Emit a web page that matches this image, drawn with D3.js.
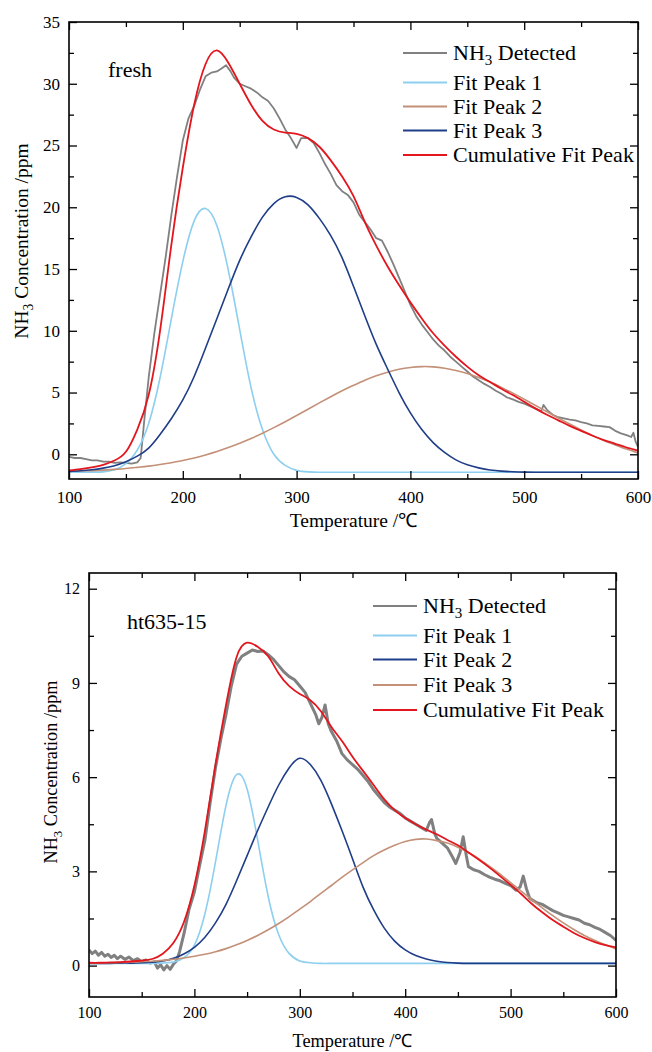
<!DOCTYPE html>
<html>
<head>
<meta charset="utf-8">
<script src="https://cdn.jsdelivr.net/npm/d3@7"></script>
<style>
body { margin: 0; background: #fff; }
svg { display: block; }
svg text { font-family: "Liberation Serif", "Times New Roman", serif; fill: #000; }
</style>
</head>
<body>
<svg id="chart" width="652" height="1052"></svg>
<script>
// temperature grid used by the fitted curves (°C)
var tempGrid = [100,110,120,130,140,150,160,170,180,190,200,210,220,230,240,250,260,270,280,290,
                300,310,320,330,340,350,360,370,380,390,400,410,420,430,440,450,460,470,480,490,
                500,510,520,530,540,550,560,570,580,590,600];

var xTicks = [100, 200, 300, 400, 500, 600];
var xMinorTicks = [150, 250, 350, 450, 550];

// ---- fresh ----
var freshDetT = [100,105,110,115,120,125,130,135,140,145,150,155,160,163,166,170,175,180,185,190,
                 195,200,205,210,215,220,225,230,235,238,242,245,250,255,260,265,270,275,280,285,
                 290,295,300,304,310,315,320,325,330,335,340,345,350,355,360,365,370,375,380,385,
                 390,395,400,405,410,415,420,425,430,435,440,445,450,455,460,465,470,475,480,485,
                 490,495,500,505,510,515,517,520,525,530,535,540,545,550,555,560,565,570,575,580,
                 585,590,594,596,598,600];
var freshDetected = [-0.2,-0.3,-0.3,-0.4,-0.5,-0.5,-0.6,-0.6,-0.7,-0.65,-0.7,-0.75,-0.65,-0.3,2.6,6.2,9.8,12.9,16.0,19.4,
                     22.5,25.4,27.2,28.2,29.5,30.6,30.9,31.0,31.3,31.5,31.0,30.5,30.0,29.8,29.6,29.3,28.9,28.6,28.0,27.2,
                     26.3,25.6,24.8,25.6,25.6,25.2,24.4,23.5,22.7,21.8,21.3,21.0,20.4,19.4,18.8,18.2,17.5,17.3,16.4,15.4,
                     14.3,13.2,12.1,11.2,10.5,9.9,9.3,8.8,8.4,7.9,7.5,7.1,6.7,6.3,6.0,5.7,5.45,5.15,4.9,4.6,
                     4.45,4.25,4.1,3.9,3.7,3.5,4.0,3.6,3.2,3.0,2.9,2.8,2.75,2.6,2.5,2.35,2.3,2.25,2.2,1.9,
                     1.7,1.55,1.4,1.75,1.0,0.6];
var freshPeak1 = [-1.45,-1.45,-1.44,-1.42,-1.25,-0.75,0.35,2.5,6.2,11.0,15.6,18.9,19.9,18.5,14.9,10.1,5.4,2.0,0.0,-0.9,
                  -1.3,-1.42,-1.45,-1.45,-1.45,-1.45,-1.45,-1.45,-1.45,-1.45,-1.45,-1.45,-1.45,-1.45,-1.45,-1.45,-1.45,-1.45,-1.45,-1.45,
                  -1.45,-1.45,-1.45,-1.45,-1.45,-1.45,-1.45,-1.45,-1.45,-1.45,-1.45];
var freshPeak2 = [-1.37,-1.35,-1.32,-1.28,-1.22,-1.15,-1.06,-0.96,-0.83,-0.68,-0.5,-0.3,-0.05,0.23,0.55,0.9,1.28,1.7,2.16,2.64,
                  3.14,3.65,4.16,4.66,5.14,5.58,6.0,6.36,6.65,6.88,7.03,7.1,7.08,6.97,6.79,6.55,6.22,5.85,5.42,4.95,
                  4.46,3.95,3.45,2.94,2.45,1.98,1.53,1.12,0.76,0.42,0.11];
var freshPeak3 = [-1.38,-1.33,-1.25,-1.12,-0.92,-0.6,-0.15,0.5,1.6,2.9,4.4,6.3,8.6,11.0,13.4,15.7,17.6,19.2,20.3,20.85,
                  20.8,20.2,19.1,17.7,15.9,13.6,11.2,8.9,6.9,5.0,3.35,2.0,0.95,0.15,-0.45,-0.85,-1.1,-1.27,-1.36,-1.41,
                  -1.44,-1.45,-1.45,-1.45,-1.45,-1.45,-1.45,-1.45,-1.45,-1.45,-1.45];
var freshCumulative = [-1.3,-1.2,-1.05,-0.85,-0.5,0.2,2.0,4.8,10.0,17.0,23.2,28.3,31.6,32.7,31.7,30.0,28.3,27.0,26.3,26.05,
                       25.95,25.6,24.9,23.8,22.5,20.9,18.8,16.9,15.2,13.7,12.3,11.0,9.8,8.8,7.9,7.1,6.4,5.85,5.3,4.8,
                       4.25,3.7,3.2,2.75,2.3,1.9,1.5,1.15,0.85,0.55,0.3];
var freshYTicks = [0, 5, 10, 15, 20, 25, 30, 35];
var freshYMinor = [2.5, 7.5, 12.5, 17.5, 22.5, 27.5, 32.5];

// ---- ht635-15 ----
var htDetT = [100,103,106,109,112,115,118,121,124,127,130,134,138,142,146,150,154,158,162,165,
              168,171,174,177,180,183,186,190,195,200,205,210,215,220,225,230,235,240,245,250,
              255,260,265,270,275,280,285,290,295,300,305,310,315,318,321,324,327,330,335,340,
              345,350,355,360,365,370,375,380,385,390,395,400,405,410,415,420,423,425,428,430,
              435,440,445,448,452,455,458,460,465,470,475,480,485,490,495,500,505,509,512,515,
              518,520,525,530,535,540,545,550,555,560,565,570,575,580,585,590,595,600];
var htDetected = [0.5,0.38,0.46,0.33,0.42,0.3,0.36,0.26,0.33,0.22,0.3,0.2,0.27,0.16,0.22,0.12,0.18,0.08,0.12,-0.08,
                  0.03,-0.14,0.0,-0.12,0.04,0.15,0.45,1.0,1.8,2.35,3.2,4.0,5.2,6.3,7.2,8.0,8.9,9.6,9.85,9.95,
                  10.05,10.0,10.02,9.9,9.75,9.55,9.35,9.2,9.1,8.9,8.7,8.35,8.0,7.7,7.9,8.3,7.7,7.45,7.15,6.75,
                  6.55,6.4,6.25,6.05,5.85,5.6,5.4,5.2,5.05,4.95,4.85,4.7,4.6,4.5,4.4,4.3,4.55,4.65,4.2,4.05,
                  3.9,3.75,3.45,3.25,3.6,4.1,3.5,3.15,3.05,3.0,2.9,2.82,2.75,2.7,2.62,2.55,2.4,2.5,2.85,2.45,
                  2.15,2.1,2.0,1.95,1.85,1.75,1.68,1.6,1.55,1.5,1.45,1.35,1.3,1.22,1.15,1.05,0.95,0.8];
var htPeak1 = [0.07,0.07,0.07,0.07,0.07,0.07,0.07,0.08,0.11,0.25,0.65,1.65,3.3,5.1,6.08,5.62,4.0,2.2,0.98,0.38,
               0.15,0.09,0.07,0.07,0.07,0.07,0.07,0.07,0.07,0.07,0.07,0.07,0.07,0.07,0.07,0.07,0.07,0.07,0.07,0.07,
               0.07,0.07,0.07,0.07,0.07,0.07,0.07,0.07,0.07,0.07,0.07];
var htPeak2 = [0.07,0.07,0.07,0.08,0.08,0.09,0.11,0.15,0.23,0.37,0.58,0.9,1.36,1.95,2.7,3.5,4.3,5.05,5.75,6.3,
               6.6,6.4,5.9,5.15,4.3,3.4,2.5,1.78,1.2,0.78,0.5,0.32,0.21,0.14,0.1,0.08,0.07,0.07,0.07,0.07,
               0.07,0.07,0.07,0.07,0.07,0.07,0.07,0.07,0.07,0.07,0.07];
var htPeak3 = [0.08,0.085,0.09,0.1,0.11,0.125,0.14,0.165,0.2,0.24,0.3,0.36,0.44,0.54,0.66,0.8,0.96,1.14,1.34,1.56,
               1.8,2.04,2.3,2.55,2.81,3.05,3.28,3.5,3.68,3.83,3.95,4.02,4.03,3.98,3.9,3.77,3.6,3.4,3.16,2.91,
               2.64,2.37,2.1,1.84,1.59,1.36,1.15,0.96,0.8,0.66,0.53];
var htCumulative = [0.09,0.09,0.1,0.11,0.13,0.16,0.21,0.38,0.72,1.38,2.55,4.3,6.4,8.3,9.82,10.28,10.15,9.85,9.3,8.9,
                    8.65,8.45,8.1,7.6,7.15,6.65,6.2,5.75,5.3,4.95,4.7,4.5,4.33,4.18,4.0,3.83,3.6,3.37,3.12,2.85,
                    2.57,2.28,1.97,1.7,1.45,1.24,1.04,0.88,0.75,0.65,0.58];
var htYTicks = [0, 3, 6, 9, 12];
var htYMinor = [1.5, 4.5, 7.5, 10.5];

var colGray = "#808080", colLight = "#8ccfef", colBrown = "#c39078", colDark = "#1f3d88", colRed = "#e3161d";
var serif = "'Liberation Serif', 'Times New Roman', serif";

var svg = d3.select("#chart");

function pairs(xs, ys) { return xs.map((t, i) => [t, ys[i]]); }

function drawPanel(p) {
  var x = d3.scaleLinear().domain([100, 600]).range([p.left, p.right]);
  var y = d3.scaleLinear().domain(p.yDomain).range([p.bottom, p.top]);
  var g = svg.append("g");

  g.append("clipPath").attr("id", p.id + "-clip")
    .append("rect")
      .attr("x", p.left).attr("y", p.top)
      .attr("width", p.right - p.left).attr("height", p.bottom - p.top);

  // fitted curves: smooth spline through the read points; detected signal: straight segments
  var smooth = d3.line().x(d => x(d[0])).y(d => y(d[1])).curve(d3.curveNatural);
  var raw = d3.line().x(d => x(d[0])).y(d => y(d[1]));

  var plot = g.append("g").attr("clip-path", "url(#" + p.id + "-clip)");
  p.series.forEach(function(s) {
    plot.append("path")
      .datum(s.data)
      .attr("fill", "none")
      .attr("stroke", s.color)
      .attr("stroke-width", s.width)
      .attr("stroke-linejoin", "round")
      .attr("d", s.raw ? raw : smooth);
  });

  // axes, ticks pointing inwards
  function style(sel, fs) {
    sel.attr("font-family", serif);
    sel.select(".domain").remove();
    sel.selectAll(".tick line").attr("stroke", "#000").attr("stroke-width", 1.3);
    sel.selectAll(".tick text").attr("fill", "#000").style("font-size", fs + "px");
  }
  g.append("g").attr("transform", "translate(0," + p.bottom + ")")
    .call(d3.axisBottom(x).tickValues(xTicks).tickSize(-8).tickPadding(p.xPad).tickFormat(d3.format("d")))
    .call(style, p.tickFont);
  g.append("g").attr("transform", "translate(0," + p.bottom + ")")
    .call(d3.axisBottom(x).tickValues(xMinorTicks).tickSize(-5).tickFormat(""))
    .call(style, p.tickFont);
  g.append("g").attr("transform", "translate(0," + p.top + ")")
    .call(d3.axisTop(x).tickValues(xTicks).tickSize(-8).tickFormat(""))
    .call(style, p.tickFont);
  g.append("g").attr("transform", "translate(0," + p.top + ")")
    .call(d3.axisTop(x).tickValues(xMinorTicks).tickSize(-5).tickFormat(""))
    .call(style, p.tickFont);
  g.append("g").attr("transform", "translate(" + p.left + ",0)")
    .call(d3.axisLeft(y).tickValues(p.yTicks).tickSize(-8).tickPadding(9).tickFormat(d3.format("d")))
    .call(style, p.tickFont);
  g.append("g").attr("transform", "translate(" + p.left + ",0)")
    .call(d3.axisLeft(y).tickValues(p.yMinor).tickSize(-5).tickFormat(""))
    .call(style, p.tickFont);
  g.append("g").attr("transform", "translate(" + p.right + ",0)")
    .call(d3.axisRight(y).tickValues(p.yTicks).tickSize(-8).tickFormat(""))
    .call(style, p.tickFont);
  g.append("g").attr("transform", "translate(" + p.right + ",0)")
    .call(d3.axisRight(y).tickValues(p.yMinor).tickSize(-5).tickFormat(""))
    .call(style, p.tickFont);

  g.append("rect")
    .attr("x", p.left).attr("y", p.top)
    .attr("width", p.right - p.left).attr("height", p.bottom - p.top)
    .attr("fill", "none").attr("stroke", "#000").attr("stroke-width", 1.6);

  // axis titles
  g.append("text")
    .attr("x", (p.left + p.right) / 2).attr("y", p.xTitleY)
    .attr("text-anchor", "middle").style("font-size", p.titleFont + "px")
    .text("Temperature /\u2103");

  var yt = g.append("text")
    .attr("transform", "translate(" + p.yTitleX + "," + p.yTitleY + ") rotate(-90)")
    .attr("text-anchor", "middle").style("font-size", p.titleFont + "px");
  yt.append("tspan").text("NH");
  yt.append("tspan").attr("dy", 5).style("font-size", (p.titleFont * 0.7) + "px").text("3");
  yt.append("tspan").attr("dy", -5).text(" Concentration /ppm");

  // sample name
  g.append("text").attr("x", p.nameX).attr("y", p.nameY)
    .style("font-size", "22px").text(p.name);

  // legend
  p.series.forEach(function(s, i) {
    var ly = p.legendRows[i];
    g.append("line")
      .attr("x1", p.legendX1).attr("x2", p.legendX2)
      .attr("y1", ly).attr("y2", ly)
      .attr("stroke", s.color).attr("stroke-width", 2);
    var t = g.append("text").attr("x", p.legendX2 + 6).attr("y", ly + 7)
      .style("font-size", "22px");
    if (s.sub) {
      t.append("tspan").text("NH");
      t.append("tspan").attr("dy", 5).style("font-size", "15px").text("3");
      t.append("tspan").attr("dy", -5).text(" Detected");
    } else {
      t.text(s.label);
    }
  });
}

drawPanel({
  id: "fresh", name: "fresh", nameX: 108, nameY: 77,
  left: 69, right: 638, top: 22, bottom: 479,
  yDomain: [-2, 35], yTicks: freshYTicks, yMinor: freshYMinor,
  tickFont: 17, titleFont: 19.5, xPad: 12,
  xTitleY: 527, yTitleX: 28, yTitleY: 241,
  legendX1: 403, legendX2: 447, legendRows: [53, 82.5, 106.5, 130.5, 155],
  series: [
    { label: "NH3 Detected", sub: true, color: colGray, width: 1.8, raw: true, data: pairs(freshDetT, freshDetected) },
    { label: "Fit Peak 1", color: colLight, width: 1.6, data: pairs(tempGrid, freshPeak1) },
    { label: "Fit Peak 2", color: colBrown, width: 1.6, data: pairs(tempGrid, freshPeak2) },
    { label: "Fit Peak 3", color: colDark, width: 1.6, data: pairs(tempGrid, freshPeak3) },
    { label: "Cumulative Fit Peak", color: colRed, width: 1.8, data: pairs(tempGrid, freshCumulative) }
  ]
});

drawPanel({
  id: "ht", name: "ht635-15", nameX: 127, nameY: 629,
  left: 89, right: 616, top: 573, bottom: 997,
  yDomain: [-1, 12.5], yTicks: htYTicks, yMinor: htYMinor,
  tickFont: 16, titleFont: 18.3, xPad: 10,
  xTitleY: 1047, yTitleX: 57, yTitleY: 772,
  legendX1: 373, legendX2: 417, legendRows: [606, 635.5, 659.5, 685, 710],
  series: [
    { label: "NH3 Detected", sub: true, color: colGray, width: 3, raw: true, data: pairs(htDetT, htDetected) },
    { label: "Fit Peak 1", color: colLight, width: 1.6, data: pairs(tempGrid, htPeak1) },
    { label: "Fit Peak 2", color: colDark, width: 1.6, data: pairs(tempGrid, htPeak2) },
    { label: "Fit Peak 3", color: colBrown, width: 1.6, data: pairs(tempGrid, htPeak3) },
    { label: "Cumulative Fit Peak", color: colRed, width: 1.8, data: pairs(tempGrid, htCumulative) }
  ]
});
</script>
</body>
</html>
